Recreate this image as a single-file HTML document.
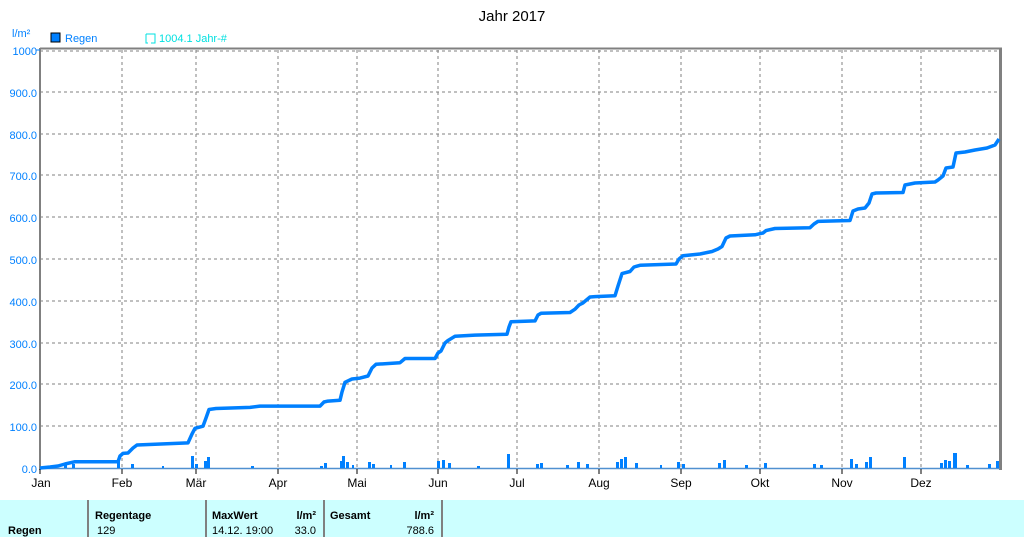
<!DOCTYPE html>
<html><head><meta charset="utf-8"><style>
body{margin:0;background:#fff;width:1024px;height:537px;overflow:hidden;font-family:"Liberation Sans",sans-serif}
</style></head><body>
<svg width="1024" height="537" xmlns="http://www.w3.org/2000/svg" font-family="Liberation Sans, sans-serif">
<rect width="1024" height="537" fill="#fff"/>
<text x="512" y="21" font-size="15" text-anchor="middle" fill="#000">Jahr 2017</text>
<text x="12" y="37" font-size="11" fill="#0080ff">l/m²</text>
<rect x="51" y="33" width="9" height="9" fill="#0080ff" stroke="#000" stroke-width="1"/>
<text x="65" y="42" font-size="11" fill="#0080ff">Regen</text>
<path d="M146,34 H155 V43 H151 M146,34 V43 H148" fill="none" stroke="#00e0e0" stroke-width="1"/>
<text x="159" y="42" font-size="11" fill="#00e0e0">1004.1 Jahr-#</text>
<g stroke="#808080" stroke-dasharray="3,3" stroke-width="1">
<line x1="40" y1="92" x2="1000" y2="92"/><line x1="40" y1="134" x2="1000" y2="134"/>
<line x1="40" y1="175" x2="1000" y2="175"/><line x1="40" y1="217" x2="1000" y2="217"/>
<line x1="40" y1="259" x2="1000" y2="259"/><line x1="40" y1="301" x2="1000" y2="301"/>
<line x1="40" y1="343" x2="1000" y2="343"/><line x1="40" y1="384" x2="1000" y2="384"/>
<line x1="40" y1="426" x2="1000" y2="426"/><line x1="40" y1="51" x2="1000" y2="51"/>
<line x1="122" y1="50" x2="122" y2="468"/><line x1="196" y1="50" x2="196" y2="468"/>
<line x1="278" y1="50" x2="278" y2="468"/><line x1="357" y1="50" x2="357" y2="468"/>
<line x1="438" y1="50" x2="438" y2="468"/><line x1="517" y1="50" x2="517" y2="468"/>
<line x1="599" y1="50" x2="599" y2="468"/><line x1="681" y1="50" x2="681" y2="468"/>
<line x1="760" y1="50" x2="760" y2="468"/><line x1="842" y1="50" x2="842" y2="468"/>
<line x1="921" y1="50" x2="921" y2="468"/>
</g>
<line x1="40" y1="48.5" x2="1002" y2="48.5" stroke="#808080" stroke-width="2"/>
<line x1="40" y1="48" x2="40" y2="470" stroke="#808080" stroke-width="2"/>
<line x1="1000.5" y1="48" x2="1000.5" y2="470" stroke="#808080" stroke-width="3"/>
<line x1="40" y1="468.5" x2="1000" y2="468.5" stroke="#5090d0" stroke-width="1.5"/>
<g font-size="11" fill="#0080ff" text-anchor="end">
<text x="37" y="55">1000</text><text x="37" y="97">900.0</text><text x="37" y="139">800.0</text>
<text x="37" y="180">700.0</text><text x="37" y="222">600.0</text><text x="37" y="264">500.0</text>
<text x="37" y="306">400.0</text><text x="37" y="348">300.0</text><text x="37" y="389">200.0</text>
<text x="37" y="431">100.0</text><text x="37" y="473">0.0</text>
</g>
<g stroke="#0080ff" stroke-width="1"><line x1="36" y1="50" x2="40" y2="50"/></g>
<g stroke="#000" stroke-width="1">
<line x1="40" y1="469" x2="40" y2="474"/><line x1="122" y1="469" x2="122" y2="474"/><line x1="196" y1="469" x2="196" y2="474"/>
<line x1="278" y1="469" x2="278" y2="474"/><line x1="357" y1="469" x2="357" y2="474"/><line x1="438" y1="469" x2="438" y2="474"/>
<line x1="517" y1="469" x2="517" y2="474"/><line x1="599" y1="469" x2="599" y2="474"/><line x1="681" y1="469" x2="681" y2="474"/>
<line x1="760" y1="469" x2="760" y2="474"/><line x1="842" y1="469" x2="842" y2="474"/><line x1="921" y1="469" x2="921" y2="474"/>
</g>
<g font-size="12" fill="#000" text-anchor="middle">
<text x="41" y="487">Jan</text><text x="122" y="487">Feb</text><text x="196" y="487">Mär</text>
<text x="278" y="487">Apr</text><text x="357" y="487">Mai</text><text x="438" y="487">Jun</text>
<text x="517" y="487">Jul</text><text x="599" y="487">Aug</text><text x="681" y="487">Sep</text>
<text x="760" y="487">Okt</text><text x="842" y="487">Nov</text><text x="921" y="487">Dez</text>
</g>
<g fill="#0080ff">
<rect x="48" y="466" width="3" height="2"/><rect x="64" y="465" width="3" height="3"/><rect x="72" y="464" width="3" height="4"/>
<rect x="117" y="460" width="3" height="8"/><rect x="131" y="464" width="3" height="4"/><rect x="162" y="466" width="2" height="2"/>
<rect x="191" y="456" width="3" height="12"/><rect x="195" y="464" width="3" height="4"/><rect x="204" y="461" width="3" height="7"/><rect x="207" y="457" width="3" height="11"/>
<rect x="251" y="466" width="3" height="2"/><rect x="320" y="466" width="3" height="2"/><rect x="324" y="463" width="3" height="5"/>
<rect x="340" y="461" width="3" height="7"/><rect x="342" y="456" width="3" height="12"/><rect x="346" y="462" width="3" height="6"/><rect x="352" y="465" width="2" height="3"/>
<rect x="368" y="462" width="3" height="6"/><rect x="372" y="464" width="3" height="4"/><rect x="390" y="465" width="2" height="3"/><rect x="403" y="462" width="3" height="6"/>
<rect x="437" y="461" width="3" height="7"/><rect x="442" y="460" width="3" height="8"/><rect x="448" y="463" width="3" height="5"/><rect x="477" y="466" width="3" height="2"/>
<rect x="507" y="454" width="3" height="14"/><rect x="536" y="464" width="3" height="4"/><rect x="540" y="463" width="3" height="5"/>
<rect x="566" y="465" width="3" height="3"/><rect x="577" y="462" width="3" height="6"/><rect x="586" y="464" width="3" height="4"/>
<rect x="616" y="462" width="3" height="6"/><rect x="620" y="459" width="3" height="9"/><rect x="624" y="457" width="3" height="11"/><rect x="635" y="463" width="3" height="5"/><rect x="660" y="465" width="2" height="3"/>
<rect x="677" y="462" width="3" height="6"/><rect x="682" y="464" width="3" height="4"/><rect x="718" y="463" width="3" height="5"/><rect x="723" y="460" width="3" height="8"/><rect x="745" y="465" width="3" height="3"/><rect x="764" y="463" width="3" height="5"/>
<rect x="813" y="464" width="3" height="4"/><rect x="820" y="465" width="3" height="3"/>
<rect x="850" y="459" width="3" height="9"/><rect x="855" y="464" width="3" height="4"/><rect x="865" y="462" width="3" height="6"/><rect x="869" y="457" width="3" height="11"/>
<rect x="903" y="457" width="3" height="11"/><rect x="940" y="463" width="3" height="5"/><rect x="944" y="460" width="3" height="8"/><rect x="948" y="461" width="3" height="7"/><rect x="953" y="453" width="4" height="15"/>
<rect x="966" y="465" width="3" height="3"/><rect x="988" y="464" width="3" height="4"/><rect x="996" y="461" width="3" height="7"/>
</g>
<polyline fill="none" stroke="#0080ff" stroke-width="3.5" stroke-linejoin="round" points="40,468 50,467 58,466 65,464 75,461.7 118,461.7 120,456 123,453.4 128,453 133,448 137,445 188,442.9 192,434 195,428.3 203,426.2 206,418 209,409.5 216,408.5 250,407.4 260,406.1 320,406.1 324,402 328,401.1 340,400.3 342,392 345,382.3 352,379 360,378.1 368,376 372,368 376,364.3 400,362.7 405,358.5 435,358.5 438,353 441,351 445,343 448,340.5 455,336.3 475,335.1 507,334.2 509,327 511,321.7 535,320.9 538,315 541,313.3 570,312.5 575,309.2 579,305 583,302.9 590,297 595,296.6 615,295.8 618,286 622,273.6 630,271.5 634,267 640,265.3 676,264 679,259 683,255.7 700,254 712,251.5 718,249 722,246.5 726,238 730,236 755,234.8 763,233 766,230.6 775,228.5 810,227.7 814,224 818,221.4 850,220.5 853,211 858,209 865,208 869,203 872,194 876,193 903,192.5 905,185 915,183 935,182 938,180 943,176 946,168 953,167 956,153 965,152 975,150 987,148 995,145 999,139"/>
<rect x="0" y="500" width="1024" height="37" fill="#ccffff"/>
<g stroke="#808080" stroke-width="2">
<line x1="88" y1="500" x2="88" y2="537"/><line x1="206" y1="500" x2="206" y2="537"/>
<line x1="324" y1="500" x2="324" y2="537"/><line x1="442" y1="500" x2="442" y2="537"/>
</g>
<g font-size="11" fill="#000">
<text x="8" y="534" font-weight="bold">Regen</text>
<text x="95" y="519" font-weight="bold">Regentage</text>
<text x="97" y="534">129</text>
<text x="212" y="519" font-weight="bold">MaxWert</text>
<text x="316" y="519" font-weight="bold" text-anchor="end">l/m²</text>
<text x="212" y="534">14.12.  19:00</text>
<text x="316" y="534" text-anchor="end">33.0</text>
<text x="330" y="519" font-weight="bold">Gesamt</text>
<text x="434" y="519" font-weight="bold" text-anchor="end">l/m²</text>
<text x="434" y="534" text-anchor="end">788.6</text>
</g>
</svg>
</body></html>
